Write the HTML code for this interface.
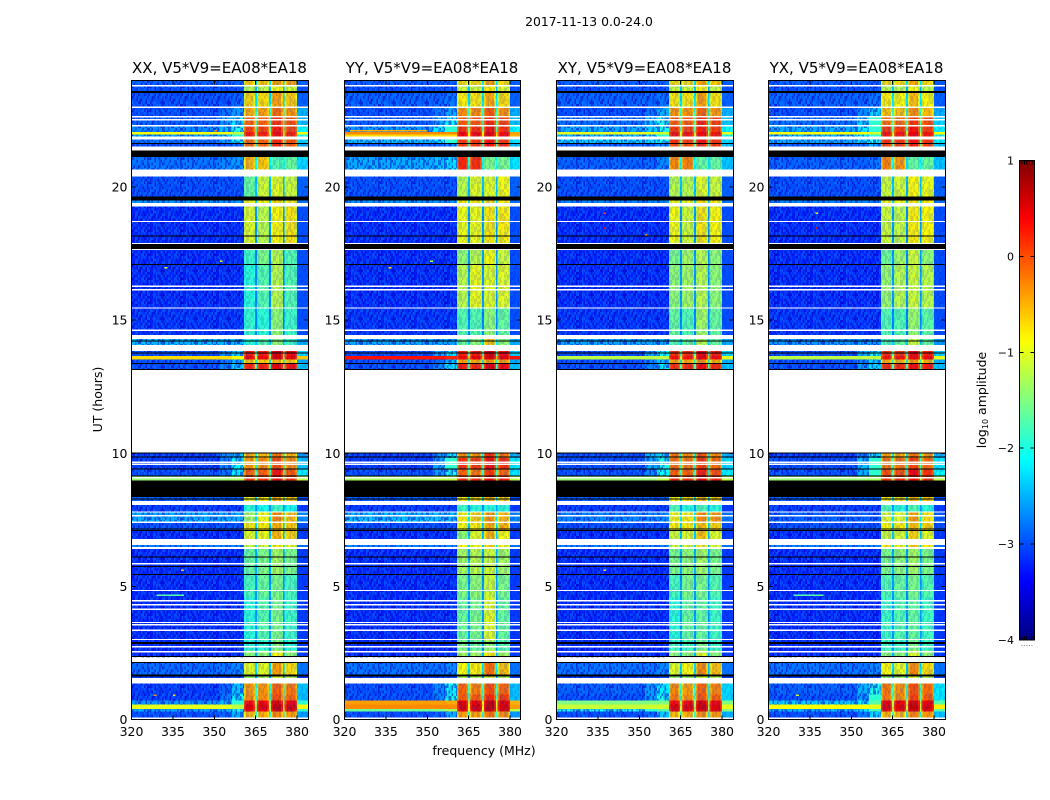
<!DOCTYPE html>
<html lang="en">
<head>
<meta charset="utf-8">
<title>2017-11-13 dynamic spectra</title>
<style>
html,body{margin:0;padding:0;background:#fff;}
svg{display:block;}
text{font-family:"DejaVu Sans","Liberation Sans",sans-serif;fill:#000;}
</style>
</head>
<body>
<svg id="chart" xmlns="http://www.w3.org/2000/svg" width="1050" height="800" viewBox="0 0 1050 800">
  <defs>
    <pattern id="speckle" width="33" height="24" patternUnits="userSpaceOnUse">
      <g fill="none" stroke-width="2.67" stroke="#0000c0" stroke-opacity="0.55">
        <path d="M0 1.33H33" stroke-dasharray="1.5 3 3 1.5 1.5 4.5 1.5 3 3 3 1.5 6"/>
        <path d="M0 4H33" stroke-dasharray="3 1.5 1.5 6 1.5 1.5 3 3 1.5 4.5 3 3" stroke-dashoffset="7.5"/>
        <path d="M0 6.67H33" stroke-dasharray="1.5 6 1.5 1.5 4.5 3 1.5 1.5 3 4.5 1.5 3" stroke-dashoffset="15"/>
        <path d="M0 9.33H33" stroke-dasharray="1.5 3 3 1.5 1.5 4.5 1.5 3 3 3 1.5 6" stroke-dashoffset="22.5"/>
        <path d="M0 12H33" stroke-dasharray="3 1.5 1.5 6 1.5 1.5 3 3 1.5 4.5 3 3" stroke-dashoffset="3"/>
        <path d="M0 14.67H33" stroke-dasharray="1.5 6 1.5 1.5 4.5 3 1.5 1.5 3 4.5 1.5 3" stroke-dashoffset="28.5"/>
        <path d="M0 17.33H33" stroke-dasharray="1.5 3 3 1.5 1.5 4.5 1.5 3 3 3 1.5 6" stroke-dashoffset="10.5"/>
        <path d="M0 20H33" stroke-dasharray="3 1.5 1.5 6 1.5 1.5 3 3 1.5 4.5 3 3" stroke-dashoffset="18"/>
        <path d="M0 22.67H33" stroke-dasharray="1.5 6 1.5 1.5 4.5 3 1.5 1.5 3 4.5 1.5 3" stroke-dashoffset="6"/>
      </g>
      <g fill="none" stroke-width="2.67" stroke="#0a88ff" stroke-opacity="0.4">
        <path d="M0 1.33H33" stroke-dasharray="1.5 6 1.5 1.5 4.5 3 1.5 1.5 3 4.5 1.5 3" stroke-dashoffset="4.5"/>
        <path d="M0 4H33" stroke-dasharray="1.5 3 3 1.5 1.5 4.5 1.5 3 3 3 1.5 6" stroke-dashoffset="27"/>
        <path d="M0 6.67H33" stroke-dasharray="3 1.5 1.5 6 1.5 1.5 3 3 1.5 4.5 3 3" stroke-dashoffset="12"/>
        <path d="M0 9.33H33" stroke-dasharray="1.5 6 1.5 1.5 4.5 3 1.5 1.5 3 4.5 1.5 3" stroke-dashoffset="19.5"/>
        <path d="M0 12H33" stroke-dasharray="1.5 3 3 1.5 1.5 4.5 1.5 3 3 3 1.5 6" stroke-dashoffset="9"/>
        <path d="M0 14.67H33" stroke-dasharray="3 1.5 1.5 6 1.5 1.5 3 3 1.5 4.5 3 3" stroke-dashoffset="24"/>
        <path d="M0 17.33H33" stroke-dasharray="1.5 6 1.5 1.5 4.5 3 1.5 1.5 3 4.5 1.5 3" stroke-dashoffset="1.5"/>
        <path d="M0 20H33" stroke-dasharray="1.5 3 3 1.5 1.5 4.5 1.5 3 3 3 1.5 6" stroke-dashoffset="16.5"/>
        <path d="M0 22.67H33" stroke-dasharray="3 1.5 1.5 6 1.5 1.5 3 3 1.5 4.5 3 3" stroke-dashoffset="30"/>
      </g>
    </pattern>
    <linearGradient id="jet-gradient" x1="0" y1="1" x2="0" y2="0"></linearGradient>
  </defs>
  <text x="589" y="26" font-size="12.4" text-anchor="middle">2017-11-13 0.0-24.0</text>
  <g id="panels"></g>
  <text x="484" y="755" font-size="12.5" text-anchor="middle">frequency (MHz)</text>
  <text x="0" y="0" font-size="12.5" text-anchor="middle" transform="translate(102,399.5) rotate(-90)">UT (hours)</text>
  <g id="colorbar"></g>
  <text x="0" y="0" font-size="12.5" text-anchor="middle" transform="translate(986,400) rotate(-90)">log<tspan font-size="8" dy="2">10</tspan><tspan dy="-2"> amplitude</tspan></text>
</svg>
<script>
// Time ranges (UT hours) of the bands
const utBands = [
[0.08,0.31],[0.31,0.40],[0.40,0.56],[0.56,0.72],[0.72,0.94],[0.94,1.35],[1.55,1.69],[1.69,2.12],[2.35,2.6],[2.6,2.96],
[2.96,4.6],[4.6,5.44],[5.44,6.4],[6.48,6.55],[6.78,7.1],[7.1,7.42],[7.42,7.8],[7.8,8.06],
[8.21,8.36],[8.97,9.15],[9.15,9.41],[9.41,9.83],[9.83,10.03],[13.12,13.37],[13.37,13.52],[13.52,13.65],
[13.65,13.84],[14.06,14.29],[14.44,15.45],[15.45,17.1],[17.1,17.67],[17.85,19.27],[19.4,19.5],[19.65,20.4],
[20.66,21.12],[21.53,21.64],[21.64,21.79],[21.9,21.98],[21.98,22.07],[22.07,22.3],[22.3,22.67],[22.67,23.02],[23.02,23.53],
[23.53,23.8],[23.8,24]];

// log10 amplitude per band: bg, mid, near, sub1, sub2, sub3, sub4, gap, tail
const xxLevels = [
[-3,-2.9,-2.5,-.5,-.5,-.3,-.4,-1.9,-2.6],[-2.5,-2.4,-2,.4,.4,.55,.45,-1.2,-1.9],[-1,-1,-1.2,.5,.5,.65,.55,-1.2,-.9],[-2.6,-2.4,-1.9,.35,.35,.5,.4,-1.2,-1.9],[-3.1,-2.8,-2.1,-.3,-.3,0,-.1,-1.8,-2.4],[-3.1,-2.9,-2.4,-.35,-.35,-.1,-.2,-1.9,-2.4],
[-3.1,-3.1,-3,-1.3,-1.3,-1,-1.2,-2.6,-3.1],[-2.85,-2.8,-2.7,-.95,-1,-.4,-.7,-2.3,-2.8],[-3.2,-3.2,-3.2,-1.4,-1.4,-.9,-1.4,-2.5,-3.1],[-3.2,-3.2,-3.2,-1.9,-1.9,-1.5,-1.9,-2.6,-3.1],
[-3.2,-3.2,-3.2,-1.9,-1.7,-1.5,-1.8,-2.6,-3.1],[-3.2,-3.2,-3.2,-1.75,-1.6,-1.5,-1.75,-2.6,-3.1],[-3.2,-3.2,-3.2,-1.6,-1.5,-1.3,-1.5,-2.5,-3.1],[-2.7,-2.7,-2.7,-1.1,-1.1,-.8,-1,-2.3,-2.8],
[-3.2,-3.2,-3.2,-1,-.95,-.5,-.65,-2.4,-3.1],[-3,-3,-3,-.8,-.8,-.5,-.6,-2.3,-3],[-2.5,-2.5,-2.5,-1.3,-.9,-.3,-.55,-2.2,-2.7],[-3.1,-3.1,-3.1,-1.9,-2,-1.8,-2,-2.6,-3.1],
[-2.9,-2.9,-2.9,-.9,-.8,-.5,-.6,-2.3,-3],[-1.4,-1.4,-1.3,.1,.1,.3,.15,-1.3,-1.2],[-3,-2.8,-2.2,-.1,-.1,.3,-.05,-1.8,-2.2],[-3.1,-2.7,-2.1,-.35,-.3,0,-.3,-1.9,-2.4],
[-3.1,-2.7,-2.4,-.45,-.55,-.2,-.5,-2,-2.6],[-3,-2.7,-2.3,.2,.2,.45,.3,-1.7,-2.4],[-3,-2.8,-2.4,-.6,-.6,-.5,-.6,-1.9,-2.5],[-.7,-.7,-.9,.4,.4,.55,.45,-1,-.6],
[-3,-2.6,-2.3,.25,.25,.5,.35,-1.7,-2.3],[-2.4,-2.4,-2.4,-1.9,-1.7,-1.4,-1.8,-2.3,-2.5],[-3.15,-3.15,-3.15,-1.85,-1.9,-1.4,-1.8,-2.7,-3],[-3.2,-3.2,-3.2,-1.9,-1.7,-1.2,-1.7,-2.7,-3],
[-3.2,-3.2,-3.2,-1.8,-1.5,-1.2,-1.7,-2.7,-3],[-3.2,-3.2,-3.2,-1,-1.2,-.85,-.75,-2.6,-3],[-2.6,-2.6,-2.6,-.9,-.9,-.7,-.8,-2.3,-2.8],[-3,-3,-3,-1.6,-1.1,-1,-1.1,-2.4,-2.9],
[-2.8,-2.7,-2.6,-.5,-.6,-1.7,-1.6,-2.1,-2.3],[-3,-3,-2.8,-.1,-.1,.2,-.05,-1.8,-2.5],[-2.8,-2.6,-2.1,-.1,-.1,.2,0,-1.7,-2.3],[-2.5,-2.3,-1.9,.2,.2,.3,.2,-1.3,-2],[-.9,-.9,-1.2,.25,.25,.35,.25,-1.1,-.9],
[-2.7,-2.4,-2,.05,.05,.25,.05,-1.6,-2.1],[-2.9,-2.6,-2.2,-.1,-.1,.15,0,-1.7,-2.4],[-3,-2.8,-2.6,-.45,-.4,-.15,-.35,-1.9,-2.5],[-3,-3,-2.9,-.65,-.7,-.4,-.6,-2.2,-2.9],
[-3,-3,-3,-1.2,-1.2,-.9,-1.1,-2.4,-3],[-2.9,-2.9,-2.9,-.6,-.6,-.4,-.4,-2.2,-2.9]];

const yyLevels = [
[-3,-2.9,-2.5,-.4,-.4,-.2,-.3,-1.9,-2.6],[-1.6,-1.5,-1.3,.45,.45,.6,.5,-1,-1.2],[-.3,-.3,-.3,.55,.55,.65,.55,-.9,-.4],[-.4,-.4,-.45,.5,.45,.6,.5,-.9,-.5],[-3,-2.7,-2,-.05,-.05,.2,.1,-1.7,-2.4],[-3,-2.7,-2.1,-.1,-.25,0,-.1,-1.8,-2.4],
[-3.1,-3.1,-3,-1.2,-1.2,-1,-1.2,-2.6,-3.1],[-2.8,-2.8,-2.7,-.9,-.8,-.15,-.55,-2.2,-2.8],[-3.2,-3.2,-3.2,-1.3,-1.3,-.8,-1.3,-2.5,-3.1],[-3.2,-3.2,-3.2,-1.5,-1.6,-1.4,-1.7,-2.6,-3.1],
[-3.2,-3.2,-3.2,-1.6,-1.5,-1,-1.6,-2.6,-3.1],[-3.2,-3.2,-3.2,-1.5,-1.4,-1.1,-1.5,-2.6,-3.1],[-3.2,-3.2,-3.2,-1.3,-1.2,-1.1,-1.3,-2.5,-3.1],[-2.7,-2.7,-2.7,-.9,-.9,-.7,-.9,-2.3,-2.8],
[-3.2,-3.2,-3.2,-1.4,-1,-.5,-.9,-2.4,-3.1],[-3,-3,-3,-.9,-.8,-.45,-.5,-2.3,-3],[-2.4,-2.4,-2.4,-.8,-.65,-.35,-.5,-2.2,-2.7],[-3.1,-3.1,-3.1,-1.8,-1.9,-1.9,-1.9,-2.6,-3.1],
[-2.9,-2.9,-2.9,-.8,-.7,-.5,-.6,-2.3,-3],[-1.3,-1.2,-1.2,.2,.15,.35,.2,-1.2,-1.2],[-3,-2.6,-2,-.1,-.2,.1,-.1,-1.8,-2.2],[-3.1,-2.5,-1.9,.15,.1,.3,.15,-1.7,-2.2],
[-3.1,-2.6,-2.2,-.3,-.35,.15,-.2,-2,-2.5],[-3,-2.7,-2.2,.25,.2,.5,.35,-1.7,-2.4],[-3,-2.8,-2.4,-.4,-.45,-.35,-.4,-1.9,-2.5],[.3,.3,.2,.4,.4,.55,.45,-.6,.3],
[-3,-2.5,-2.1,.25,.25,.5,.35,-1.7,-2.3],[-2.5,-2.5,-2.5,-1.6,-1.4,-.6,-1.4,-2.2,-2.5],[-3.15,-3.15,-3.15,-1.7,-1.7,-1.4,-1.6,-2.7,-3],[-3.2,-3.2,-3.2,-1.2,-.95,-1,-1,-2.6,-3],
[-3.2,-3.2,-3.2,-1.4,-1.2,-.9,-1.1,-2.6,-3],[-3.2,-3.2,-3.2,-.95,-.95,-.75,-.8,-2.6,-3],[-2.6,-2.6,-2.6,-.8,-.8,-.7,-.8,-2.3,-2.8],[-3,-3,-3,-1.2,-1,-1,-.9,-2.4,-2.9],
[-2.5,-2.4,-2.2,.2,.15,-1.5,-1.5,-2,-2.2],[-2.9,-2.9,-2.7,.1,.1,.3,.2,-1.7,-2.4],[-2.4,-2.2,-1.9,.1,.1,.3,.1,-1.6,-2.2],[-.7,-.7,-.7,.35,.3,.45,.35,-.8,-.5],[-.3,-.3,-.3,.4,.35,.45,.35,-.8,-.4],
[-2.6,-2.2,-1.9,.15,.15,.3,.15,-1.6,-2.1],[-2.9,-2.5,-2.1,-.05,-.05,.2,.05,-1.7,-2.4],[-3,-2.8,-2.5,-.3,-.3,-.05,-.3,-1.9,-2.5],[-2.9,-2.9,-2.8,-.8,-.75,-.45,-.7,-2.2,-2.9],
[-3,-3,-3,-1.1,-1.1,-.8,-1,-2.4,-3],[-2.9,-2.9,-2.9,-.7,-.7,-.4,-.7,-2.2,-2.9]];

const xyLevels = [
[-3,-2.9,-2.4,-.55,-.5,-.3,-.35,-1.9,-2.5],[-2,-1.9,-1.7,.4,.4,.55,.45,-1.2,-1.5],[-1.15,-1.1,-1.1,.5,.5,.65,.5,-1.2,-1],[-1.5,-1.5,-1.5,.35,.35,.5,.4,-1.2,-1.5],[-3,-2.6,-2,-.2,-.3,-.05,-.1,-1.8,-2.3],[-2.9,-2.6,-2.2,-.3,-.4,-.1,-.25,-1.9,-2.3],
[-3.1,-3.1,-3,-1.3,-1.3,-1,-1.2,-2.6,-3.1],[-2.8,-2.8,-2.7,-1,-.85,-.3,-.55,-2.3,-2.8],[-3.2,-3.2,-3.2,-1.4,-1.4,-1,-1.4,-2.5,-3.1],[-3.2,-3.2,-3.2,-1.8,-1.8,-1.5,-1.8,-2.6,-3.1],
[-3.2,-3.2,-3.2,-1.9,-1.6,-1.6,-1.8,-2.6,-3.1],[-3.2,-3.2,-3.2,-1.75,-1.5,-1.5,-1.7,-2.6,-3.1],[-3.2,-3.2,-3.2,-1.5,-1.4,-1.3,-1.5,-2.5,-3.1],[-2.7,-2.7,-2.7,-1.1,-1.1,-.8,-1,-2.3,-2.8],
[-3.2,-3.2,-3.2,-1.1,-1,-.55,-1,-2.4,-3.1],[-3,-3,-3,-.8,-.8,-.55,-.65,-2.3,-3],[-2.7,-2.7,-2.7,-.85,-.8,-.3,-.35,-2.2,-2.8],[-3.1,-3.1,-3.1,-1.7,-1.9,-1.7,-1.9,-2.6,-3.1],
[-2.9,-2.9,-2.9,-.8,-.7,-.5,-.6,-2.3,-3],[-1.4,-1.4,-1.2,.2,.15,.35,.2,-1.2,-1.2],[-3,-2.7,-2.1,-.1,-.1,.25,0,-1.8,-2.2],[-3,-2.5,-2,-.15,-.2,.1,-.15,-1.8,-2.3],
[-3,-2.4,-2.2,-.2,-.3,-.05,-.3,-2,-2.5],[-3,-2.7,-2.2,.15,.15,.35,.2,-1.7,-2.4],[-3,-2.7,-2.4,-.4,-.45,-.35,-.5,-1.9,-2.5],[-1.2,-1.2,-1.2,.3,.3,.45,.35,-1,-1],
[-3,-2.5,-2.1,.15,.15,.4,.25,-1.7,-2.3],[-2.5,-2.5,-2.5,-1.7,-1.6,-1.2,-1.6,-2.3,-2.5],[-3.15,-3.15,-3.15,-1.6,-1.7,-1.3,-1.6,-2.7,-3],[-3.2,-3.2,-3.2,-1.4,-1.3,-1.2,-1.4,-2.6,-3],
[-3.2,-3.2,-3.2,-1.5,-1.3,-1.2,-1.4,-2.6,-3],[-3.2,-3.2,-3.2,-.9,-1.1,-.75,-.85,-2.6,-3],[-2.7,-2.7,-2.7,-.9,-.9,-.7,-.8,-2.3,-2.8],[-3,-3,-3,-1.2,-1.2,-1,-1.1,-2.4,-2.9],
[-2.9,-2.9,-2.7,-.3,-.25,-1.6,-1.6,-2.1,-2.4],[-2.9,-2.9,-2.7,0,0,.15,.1,-1.7,-2.4],[-2.3,-2.2,-2,.15,.1,.3,.15,-1.6,-2.3],[-2.4,-2.2,-1.9,.25,.25,.35,.25,-1.2,-2],[-1,-1,-1.1,.3,.3,.4,.3,-1.1,-1],
[-2.5,-2.3,-2,.1,.05,.25,.1,-1.6,-2.1],[-2.8,-2.4,-2,-.05,-.05,.2,.05,-1.7,-2.4],[-3,-2.8,-2.5,-.35,-.35,-.1,-.35,-1.9,-2.5],[-2.9,-2.9,-2.8,-.75,-.75,-.4,-.75,-2.2,-2.9],
[-3,-3,-3,-1.1,-1.1,-.8,-1.1,-2.4,-3],[-2.9,-2.9,-2.9,-.7,-.7,-.4,-.6,-2.2,-2.9]];

const yxLevels = [
[-3,-2.8,-2.3,-.5,-.5,-.25,-.35,-1.9,-2.4],[-2.4,-2.2,-1.8,.4,.4,.55,.45,-1.1,-1.7],[-.9,-.9,-1,.5,.5,.65,.55,-1.1,-.8],[-2.3,-2.1,-1.7,.4,.4,.55,.45,-1.1,-1.7],[-3,-2.6,-1.9,-.2,-.3,.05,-.05,-1.7,-2.2],[-2.9,-2.5,-2,-.2,-.3,0,-.15,-1.8,-2.2],
[-3.1,-3.1,-3,-1.3,-1.3,-1,-1.2,-2.6,-3.1],[-2.8,-2.8,-2.7,-.85,-.95,-.3,-.7,-2.3,-2.8],[-3.2,-3.2,-3.2,-1.4,-1.4,-1,-1.4,-2.5,-3.1],[-3.2,-3.2,-3.2,-1.8,-1.8,-1.5,-1.8,-2.6,-3.1],
[-3.2,-3.2,-3.2,-1.8,-1.7,-1.6,-1.8,-2.6,-3.1],[-3.2,-3.2,-3.2,-1.7,-1.6,-1.5,-1.7,-2.6,-3.1],[-3.2,-3.2,-3.2,-1.5,-1.4,-1.3,-1.5,-2.5,-3.1],[-2.7,-2.7,-2.7,-.8,-.9,-.6,-.8,-2.3,-2.8],
[-3.2,-3.2,-3.2,-1.1,-1.05,-.65,-1,-2.4,-3.1],[-3,-3,-3,-.85,-.8,-.55,-.65,-2.3,-3],[-2.9,-2.9,-2.9,-1,-1,-.4,-.75,-2.2,-2.9],[-3.1,-3.1,-3.1,-1.7,-1.9,-1.7,-1.9,-2.6,-3.1],
[-2.9,-2.9,-2.9,-.8,-.7,-.5,-.6,-2.3,-3],[-1.4,-1.4,-1.3,.15,.15,.3,.15,-1.2,-1.2],[-3,-2.5,-1.9,0,0,.4,.15,-1.8,-2.1],[-3,-2.4,-1.9,-.2,-.2,.05,-.15,-1.8,-2.2],
[-3.1,-2.7,-2.2,-.4,-.45,-.2,-.4,-2,-2.5],[-3,-2.6,-2.2,.15,.15,.35,.25,-1.7,-2.4],[-3,-2.7,-2.3,-.45,-.5,-.4,-.5,-1.9,-2.5],[-1.2,-1.2,-1.2,.3,.3,.45,.35,-1,-1],
[-3,-2.5,-2.1,.15,.15,.4,.25,-1.7,-2.3],[-2.6,-2.6,-2.6,-1.7,-1.6,-1.1,-1.6,-2.3,-2.6],[-3.15,-3.15,-3.15,-1.7,-1.7,-1.35,-1.65,-2.7,-3],[-3.2,-3.2,-3.2,-1.35,-1.2,-1.1,-1.2,-2.6,-3],
[-3.2,-3.2,-3.2,-1.55,-1.3,-1.1,-1.4,-2.6,-3],[-3.2,-3.2,-3.2,-1.1,-1.15,-.8,-.85,-2.6,-3],[-2.7,-2.7,-2.7,-.9,-.9,-.75,-.8,-2.3,-2.8],[-3,-3,-3,-1.1,-1.05,-.85,-.95,-2.4,-2.9],
[-2.9,-2.9,-2.8,-.25,-.35,-1.6,-1.6,-2.1,-2.4],[-2.9,-2.8,-2.5,.05,.05,.2,.05,-1.7,-2.4],[-2.5,-2.3,-2,.15,.1,.3,.15,-1.6,-2.2],[-2.4,-2.2,-1.9,.25,.25,.35,.25,-1.2,-2],[-.9,-.9,-1.1,.3,.3,.45,.3,-1,-.9],
[-2.5,-2.2,-1.9,.1,.1,.3,.1,-1.6,-2.1],[-2.8,-2.3,-1.9,-.15,-.15,.1,0,-1.7,-2.3],[-3,-2.7,-2.3,-.55,-.55,-.3,-.55,-1.9,-2.5],[-2.9,-2.9,-2.8,-.8,-.85,-.55,-.85,-2.2,-2.9],
[-3,-3,-3,-1.2,-1.2,-.9,-1.2,-2.4,-3],[-2.9,-2.9,-2.9,-.7,-.7,-.45,-.7,-2.2,-2.9]];

// Flagged time rows, UT hours: rendered white (no data) or black (zero)
const whiteRows = [[0,.08],[1.35,1.55],[2.16,2.33],[2.52,2.58],[2.71,2.76],[2.98,3.03],[3.33,3.38],[3.54,3.59],[3.63,3.67],[4.13,4.17],[4.29,4.33],[4.44,4.48],[4.83,4.87],[5.83,5.87],[6.4,6.48],[6.55,6.78],[7.41,7.44],[7.65,7.68],[7.79,7.82],[8.06,8.21],[9.06,9.1],[9.59,9.62],[9.66,9.69],[10.03,13.12],[13.84,14.06],[14.29,14.44],[14.61,14.65],[15.45,15.48],[16.14,16.17],[16.27,16.3],[17.65,17.68],[17.86,17.89],[18.7,18.73],[19.27,19.4],[20.4,20.66],[21.38,21.53],[21.79,21.9],[22.3,22.33],[22.52,22.55],[22.64,22.67],[22.99,23.02],[23.8,23.83]];
const blackRows = [[1.61,1.69],[2.12,2.16],[2.35,2.38],[2.84,2.87],[2.89,2.92],[5.43,5.46],[5.74,5.77],[6.09,6.12],[7.09,7.12],[7.15,7.18],[8.27,8.31],[8.36,8.97],[9.14,9.17],[9.39,9.42],[9.84,9.87],[10,10.03],[13.14,13.17],[13.36,13.39],[13.76,13.79],[14.2,14.23],[17.07,17.1],[17.67,17.85],[18.15,18.18],[19.5,19.65],[21.12,21.38],[21.62,21.66],[23.53,23.6]];

// Narrow interference streaks: panel index, start MHz, end MHz, UT, level
const spotRows = [
[0,328,329,.9,-.3],[0,335,336,.9,-.7],[0,329,339,4.65,-1.7],[0,338,339,5.6,-.5],[0,322,352,2.85,-2.2],[0,332,333,16.95,-1],[0,352,353,17.2,-.8],[0,350,351,22.1,-.3],
[1,322,352,2.85,-2.3],[1,336,337,16.95,-.7],[1,351,352,17.2,-1.2],[1,322,350,22.1,-.5],
[2,322,352,2.85,-2.3],[2,337,338,5.6,-.7],[2,352,353,18.2,-.3],[2,337,338,19,0],[2,337,338,18.45,.4],
[3,329,340,4.65,-1.7],[3,330,331,.9,-1.2],[3,337,338,19,-.8],[3,337,338,18.45,.4]
];

// Panel definitions and axis ticks
const panelTitles = ["XX, V5*V9=EA08*EA18","YY, V5*V9=EA08*EA18","XY, V5*V9=EA08*EA18","YX, V5*V9=EA08*EA18"];
const panelLevels = [xxLevels,yyLevels,xyLevels,yxLevels];
const freqTicks = [320,335,350,365,380];
const utTicks = [0,5,10,15,20];
const subbands = [[360.7,364.8],[365.5,369.8],[370.5,374.8],[375.5,380]];
const flankEdges = [320,352,356.5,360.7];
const colorbarTicks = [-4,-3,-2,-1,0,1];
const colorbarTickLabels = ["\u22124","\u22123","\u22122","\u22121","0","1"];

const SVGNS = "http://www.w3.org/2000/svg";
const panelBoxes = [{x:131.5,w:177},{x:344.5,w:176},{x:556.5,w:177},{x:768.5,w:177}];
const yTop = 80.5, yBottom = 719.5;
const xScale = (box, mhz) => box.x + (mhz - 320) * 2.76;
const yScale = ut => yBottom - (ut / 24) * (yBottom - yTop);

function jet(v) {
  const t = Math.min(1, Math.max(0, (v + 4) / 5));
  const c = f => Math.round(255 * Math.min(1, Math.max(0, 1.5 - Math.abs(4 * t - f))));
  return "rgb(" + c(3) + "," + c(2) + "," + c(1) + ")";
}
function make(tag, attrs, parent) {
  const el = document.createElementNS(SVGNS, tag);
  for (const k in attrs) el.setAttribute(k, attrs[k]);
  parent.appendChild(el);
  return el;
}

const panelsRoot = document.getElementById("panels");

panelTitles.forEach((title, p) => {
  const box = panelBoxes[p];
  const group = make("g", {}, panelsRoot);
  
  

  const clipId = "clip" + p;
  const clip = make("clipPath", {id: clipId}, group);
  make("rect", {x: box.x, y: yTop, width: box.w, height: yBottom - yTop}, clip);
  const plot = make("g", {"clip-path": "url(#" + clipId + ")", "shape-rendering": "crispEdges"}, group);
  
  

  // Heatmap cells
  const addCell = (band, f0, f1, value) => {
    const yA = yScale(band[1]), yB = yScale(band[0]);
    const x0 = xScale(box, f0), x1 = xScale(box, f1);
    const cell = make("rect", {x: x0.toFixed(2), y: yA.toFixed(2), width: (x1 - x0).toFixed(2), height: (yB - yA).toFixed(2), fill: jet(value)}, plot);
    
    
  };
  utBands.forEach((band, b) => {
    const row = panelLevels[p][b];
    addCell(band, flankEdges[0], flankEdges[1], row[0]);
    addCell(band, flankEdges[1], flankEdges[2], row[1]);
    addCell(band, flankEdges[2], flankEdges[3], row[2]);
    subbands.forEach((sb, s) => {
      const level = row[3 + s];
      const drop = level > -0.8 ? 0.35 : 0.1;
      addCell(band, sb[0], sb[0] + 0.6, level - drop);
      addCell(band, sb[0] + 0.6, sb[1] - 0.6, level);
      addCell(band, sb[1] - 0.6, sb[1], level - drop);
      if (s < subbands.length - 1) addCell(band, sb[1], subbands[s + 1][0], row[7]);
    });
    addCell(band, 380, 384.2, row[8]);
  });

  // Channel noise texture: full strength on the quiet band, faint on the active band
  const grainQuiet = make("rect", {x: box.x, y: yTop, width: xScale(box, 360.7) - box.x, height: yBottom - yTop, fill: "url(#speckle)"}, plot);
  
  
  const grainActive = make("rect", {x: xScale(box, 360.7), y: yTop, width: box.x + box.w - xScale(box, 360.7), height: yBottom - yTop, fill: "url(#speckle)", "fill-opacity": 0.3}, plot);
  
  

  // Bright continuum rows sit above the noise floor, so they stay clean
  utBands.forEach((band, b) => {
    const row = panelLevels[p][b];
    if (row[0] > -2) addCell(band, flankEdges[0], flankEdges[1], row[0]);
    if (row[1] > -2) addCell(band, flankEdges[1], flankEdges[2], row[1]);
    if (row[2] > -2) addCell(band, flankEdges[2], flankEdges[3], row[2]);
    if (row[8] > -2) addCell(band, 380, 384.2, row[8]);
  });

  // Interference streaks
  spotRows.filter(s => s[0] === p).forEach(s => {
    const x0 = xScale(box, s[1]), x1 = xScale(box, s[2]);
    const spot = make("rect", {x: x0.toFixed(2), y: (yScale(s[3]) - 1).toFixed(2), width: (x1 - x0).toFixed(2), height: 1.5, fill: jet(s[4])}, plot);
    
    
  });

  // Flagged rows
  whiteRows.forEach(r => {
    const yA = yScale(r[1]), yB = yScale(r[0]);
    const mask = make("rect", {x: box.x, y: yA.toFixed(2), width: box.w, height: Math.max(1.4, yB - yA).toFixed(2), fill: "#fff"}, plot);
    
    
  });
  blackRows.forEach(r => {
    const yA = yScale(r[1]), yB = yScale(r[0]);
    const mask = make("rect", {x: box.x, y: yA.toFixed(2), width: box.w, height: Math.max(1, yB - yA).toFixed(2), fill: "#000"}, plot);
    
    
  });

  // Frame
  const frame = make("rect", {x: box.x, y: yTop, width: box.w, height: yBottom - yTop, fill: "none", stroke: "#000", "stroke-width": 1, "shape-rendering": "crispEdges"}, group);
  
  

  // X ticks and labels
  freqTicks.forEach(f => {
    const x = xScale(box, f);
    const bottomTick = make("line", {x1: x, x2: x, y1: yBottom, y2: yBottom - 4, stroke: "#000", "shape-rendering": "crispEdges"}, group);
    
    
    const topTick = make("line", {x1: x, x2: x, y1: yTop, y2: yTop + 4, stroke: "#000", "shape-rendering": "crispEdges"}, group);
    
    
    const label = make("text", {x: x, y: 736, "font-size": 12.5, "text-anchor": "middle"}, group);
    label.textContent = String(f);
    
    
  });

  // Y ticks and labels
  utTicks.forEach(u => {
    const y = yScale(u);
    const leftTick = make("line", {x1: box.x, x2: box.x + 4, y1: y, y2: y, stroke: "#000", "shape-rendering": "crispEdges"}, group);
    
    
    const rightTick = make("line", {x1: box.x + box.w, x2: box.x + box.w - 4, y1: y, y2: y, stroke: "#000", "shape-rendering": "crispEdges"}, group);
    
    
    const label = make("text", {x: box.x - 4, y: y + 4.5, "font-size": 12.5, "text-anchor": "end"}, group);
    label.textContent = String(u);
    
    
  });

  // Title
  const heading = make("text", {x: box.x + box.w / 2 - 0.5, y: 73, "font-size": 15, "text-anchor": "middle"}, group);
  heading.textContent = title;
  
  
});

// Colorbar
const cbRoot = document.getElementById("colorbar");
const cb = {x: 1019.5, w: 15, top: 160.5, bottom: 640};
const cbScale = v => cb.bottom - ((v + 4) / 5) * (cb.bottom - cb.top);
const gradient = document.getElementById("jet-gradient");
for (let i = 0; i <= 50; i++) {
  make("stop", {offset: (i / 50), "stop-color": jet(-4 + i / 10)}, gradient);
}
const cbBar = make("rect", {x: cb.x, y: cb.top, width: cb.w, height: cb.bottom - cb.top, fill: "url(#jet-gradient)", stroke: "#000", "stroke-width": 1, "shape-rendering": "crispEdges"}, cbRoot);


colorbarTicks.forEach((v, i) => {
  const y = cbScale(v);
  const tl = make("line", {x1: cb.x, x2: cb.x + 4, y1: y, y2: y, stroke: "#000", "shape-rendering": "crispEdges"}, cbRoot);
  
  
  const tr = make("line", {x1: cb.x + cb.w, x2: cb.x + cb.w - 4, y1: y, y2: y, stroke: "#000", "shape-rendering": "crispEdges"}, cbRoot);
  
  
  const label = make("text", {x: 1014, y: y + 4, "font-size": 11, "text-anchor": "end"}, cbRoot);
  label.textContent = colorbarTickLabels[i];
  
  
});
for (let i = 1; i < 6; i++) {
  const x = cb.x + i * cb.w / 6;
  const topMark = make("line", {x1: x, x2: x, y1: cb.top, y2: cb.top + 4, stroke: "#000", "shape-rendering": "crispEdges"}, cbRoot);
  
  
  const bottomMark = make("line", {x1: x, x2: x, y1: cb.bottom, y2: cb.bottom - 4, stroke: "#000", "shape-rendering": "crispEdges"}, cbRoot);
  
  
  const dot = make("rect", {x: x - 0.5, y: 645, width: 1, height: 1, fill: "#888"}, cbRoot);
  
  
}
</script>
</body>
</html>
